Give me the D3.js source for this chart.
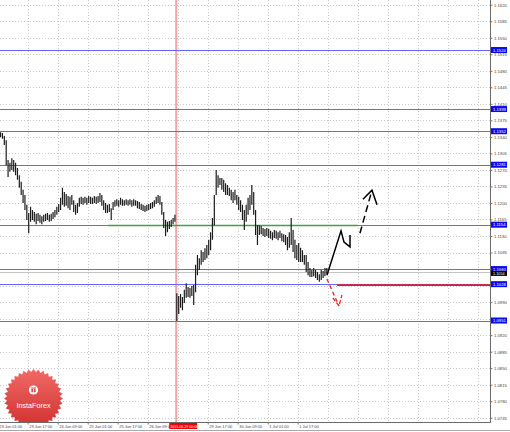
<!DOCTYPE html>
<html><head><meta charset="utf-8">
<script src="https://cdn.jsdelivr.net/npm/d3@7"></script>
<style>
body{margin:0;background:#fff}
svg{display:block}
text{font-family:"Liberation Sans",Arial,sans-serif}
</style>
</head><body>
<svg id="c" width="510" height="432"></svg>
<script>
// ---------- DATA ----------
const firstHour = 1; // hours of trading time since 23 Jun 2015 01:00
const highs = [
1.1350,1.1348,1.1342,1.1333,1.1291,1.1285,1.1295,1.1291,1.1285,1.1274,
1.1259,1.1245,1.1228,1.1217,1.1196,1.1179,1.1192,1.1185,1.1181,1.1177,
1.1179,1.1175,1.1172,1.1175,1.1177,1.1179,1.1175,1.1177,1.1181,1.1185,
1.1192,1.1198,1.1211,1.1232,1.1223,1.1219,1.1215,1.1213,1.1217,1.1206,
1.1196,1.1200,1.1211,1.1213,1.1211,1.1213,1.1211,1.1215,1.1213,1.1211,
1.1215,1.1213,1.1215,1.1221,1.1217,1.1206,1.1200,1.1196,1.1198,1.1189,
1.1202,1.1206,1.1208,1.1206,1.1211,1.1208,1.1206,1.1208,1.1206,1.1208,
1.1206,1.1208,1.1206,1.1204,1.1202,1.1198,1.1196,1.1194,1.1196,1.1198,
1.1200,1.1202,1.1206,1.1213,1.1217,1.1215,1.1202,1.1181,1.1164,1.1160,
1.1162,1.1164,1.1168,1.1175,
1.1009,1.1003,1.1007,1.1001,1.1016,1.1030,1.1022,1.1020,1.1024,1.1026,
1.1069,1.1090,1.1083,1.1100,1.1096,1.1104,1.1111,1.1122,1.1138,1.1168,
1.1217,1.1270,1.1259,1.1253,1.1253,1.1249,1.1242,1.1238,1.1232,1.1228,
1.1223,1.1228,1.1217,1.1213,1.1206,1.1196,1.1185,1.1196,1.1211,1.1217,
1.1238,1.1223,1.1185,1.1153,1.1153,1.1151,1.1147,1.1145,1.1147,1.1145,
1.1141,1.1138,1.1143,1.1141,1.1138,1.1141,1.1136,1.1134,1.1132,1.1128,
1.1138,1.1168,1.1143,1.1122,1.1111,1.1115,1.1105,1.1100,1.1090,1.1090,
1.1075,1.1062,1.1058,1.1062,1.1058,1.1054,1.1049,1.1058,1.1056,1.1062,
1.1062];
const lows = [
1.1340,1.1336,1.1323,1.1280,1.1255,1.1266,1.1270,1.1266,1.1259,1.1249,
1.1232,1.1217,1.1200,1.1185,1.1164,1.1136,1.1160,1.1164,1.1160,1.1155,
1.1162,1.1158,1.1155,1.1160,1.1162,1.1164,1.1160,1.1162,1.1166,1.1170,
1.1175,1.1181,1.1185,1.1196,1.1192,1.1194,1.1189,1.1185,1.1196,1.1181,
1.1175,1.1179,1.1192,1.1198,1.1196,1.1200,1.1196,1.1200,1.1198,1.1198,
1.1200,1.1198,1.1200,1.1202,1.1194,1.1185,1.1179,1.1179,1.1181,1.1164,
1.1185,1.1192,1.1194,1.1192,1.1196,1.1194,1.1194,1.1196,1.1194,1.1196,
1.1192,1.1194,1.1194,1.1189,1.1187,1.1185,1.1183,1.1181,1.1183,1.1185,
1.1187,1.1189,1.1192,1.1198,1.1200,1.1196,1.1175,1.1147,1.1130,1.1138,
1.1145,1.1149,1.1155,1.1160,
1.0950,1.0965,1.0978,1.0973,1.0988,1.0999,1.1001,1.0999,1.1003,1.0984,
1.1011,1.1047,1.1058,1.1069,1.1075,1.1079,1.1083,1.1090,1.1100,1.1122,
1.1153,1.1217,1.1232,1.1238,1.1228,1.1223,1.1217,1.1217,1.1215,1.1206,
1.1200,1.1206,1.1196,1.1185,1.1181,1.1164,1.1143,1.1160,1.1175,1.1185,
1.1196,1.1175,1.1132,1.1111,1.1132,1.1134,1.1130,1.1128,1.1130,1.1126,
1.1124,1.1121,1.1126,1.1124,1.1121,1.1126,1.1119,1.1117,1.1111,1.1100,
1.1105,1.1111,1.1096,1.1083,1.1079,1.1075,1.1075,1.1075,1.1069,1.1054,
1.1047,1.1043,1.1043,1.1045,1.1041,1.1037,1.1033,1.1037,1.1041,1.1045,
1.1049];

// price tick labels shown on the axis (labels hidden under level boxes are left out, as in the reference)
const priceTicks = [1.1620,1.1585,1.1550,1.1515,1.1480,1.1445,1.1410,1.1375,1.1340,1.1305,
  1.1270,1.1235,1.1200,1.1165,1.1130,1.1095,1.0990,1.0920,1.0885,
  1.0850,1.0815,1.0780,1.0745];
const gridPrices = [1.1620,1.1585,1.1550,1.1515,1.1480,1.1445,1.1410,1.1375,1.1340,1.1305,
  1.1270,1.1235,1.1200,1.1165,1.1130,1.1095,1.1060,1.1025,1.0990,1.0955,1.0920,1.0885,
  1.0850,1.0815,1.0780,1.0745];
const timeTickHours = [0,16,32,48,64,80,112,128,144,160];
const timeTickLabels = ["23 Jun 01:00","23 Jun 17:00","24 Jun 09:00","25 Jun 01:00","25 Jun 17:00",
  "26 Jun 09:00","29 Jun 17:00","30 Jun 09:00","1 Jul 01:00","1 Jul 17:00"];
const gridHours = [16,32,48,64,80,96,112,128,144,160,176,192,208,224,240,256];

const levels = [1.1524,1.1399,1.1352,1.1281,1.1154,1.1060,1.1028,1.0951];
const currentPrice = 1.1054;
const greenLevel = 1.1154, greenFrom = 58.8, greenTo = 192.2;
const redLevel = 1.1026, redFrom = 181;
const separatorHour = 95.2, separatorLabel = "2015.06.29 00:00";

const bullPath = [[175.6,1.1047],[183.1,1.1141],[184.7,1.1117],[187.9,1.1107],[187.9,1.1132]];
const bullDash = [[193.2,1.1136],[199.6,1.1227]];
const bullHead = [[194.8,1.1208],[199.6,1.1227],[202.3,1.1196]];
const bearDash = [[175.6,1.1039],[182.0,1.0982]];
const bearHead = [[178.8,1.0999],[182.0,1.0982],[183.6,1.1005]];

// ---------- SCALES ----------
const W = 510, H = 432, plotR = 490.5, plotB = 422.5;
const xs = d3.scaleLinear().domain([0,16]).range([-2.3,27.7]);
const ys = d3.scaleLinear().domain([1.0736,1.1630]).range([422,0]);

const svg = d3.select("#c");
svg.append("rect").attr("width",W).attr("height",H).attr("fill","#fff");
const defs = svg.append("defs");
defs.append("clipPath").attr("id","plot")
  .append("rect").attr("x",0).attr("y",0).attr("width",plotR).attr("height",plotB);
const lg = defs.append("linearGradient").attr("id","logoG").attr("x1",0).attr("y1",0).attr("x2",0).attr("y2",1);
lg.append("stop").attr("offset","0%").attr("stop-color","#f06a66");
lg.append("stop").attr("offset","100%").attr("stop-color","#d0302f");

const g = svg.append("g").attr("clip-path","url(#plot)");

// grid
g.selectAll("line.hg").data(gridPrices).join("line")
  .attr("x1",0).attr("x2",plotR).attr("y1",d=>Math.round(ys(d))+0.5).attr("y2",d=>Math.round(ys(d))+0.5)
  .attr("stroke","#c8c8c8").attr("stroke-width",1).attr("stroke-dasharray","1,2");
g.selectAll("line.vg").data(gridHours).join("line")
  .attr("y1",0).attr("y2",plotB).attr("x1",d=>Math.round(xs(d))+0.5).attr("x2",d=>Math.round(xs(d))+0.5)
  .attr("stroke","#c8c8c8").attr("stroke-width",1).attr("stroke-dasharray","1,2");

// separator (red vertical)
g.append("line").attr("x1",xs(separatorHour)).attr("x2",xs(separatorHour)).attr("y1",0).attr("y2",plotB)
  .attr("stroke","#f4a4a4").attr("stroke-width",2);

// levels
g.selectAll("line.lv").data(levels).join("line")
  .attr("x1",0).attr("x2",plotR).attr("y1",d=>Math.round(ys(d))+0.5).attr("y2",d=>Math.round(ys(d))+0.5)
  .attr("stroke","#6464ff").attr("stroke-width",1);
g.append("line").attr("x1",0).attr("x2",plotR)
  .attr("y1",Math.round(ys(currentPrice))+0.5).attr("y2",Math.round(ys(currentPrice))+0.5)
  .attr("stroke","#c4c4c4").attr("stroke-width",1);
g.append("line").attr("x1",xs(greenFrom)).attr("x2",xs(greenTo))
  .attr("y1",Math.round(ys(greenLevel))+0.5).attr("y2",Math.round(ys(greenLevel))+0.5)
  .attr("stroke","#34a844").attr("stroke-width",1.4);
g.append("line").attr("x1",xs(redFrom)).attr("x2",plotR)
  .attr("y1",ys(redLevel)).attr("y2",ys(redLevel))
  .attr("stroke","#f01818").attr("stroke-width",1.6);

// bars
const bars = highs.map((h,i)=>({t:firstHour+i,h,l:lows[i]}));
g.selectAll("line.bar").data(bars).join("line")
  .attr("x1",d=>xs(d.t)+1).attr("x2",d=>xs(d.t)+1)
  .attr("y1",d=>ys(d.h)).attr("y2",d=>ys(d.l))
  .attr("stroke","#1c1c1c").attr("stroke-width",1.2);

// arrows
const ln = d3.line().x(d=>xs(d[0])).y(d=>ys(d[1]));
g.append("path").attr("d",ln(bullPath)).attr("fill","none").attr("stroke","#000").attr("stroke-width",1.5);
g.append("path").attr("d",ln(bullDash)).attr("fill","none").attr("stroke","#000").attr("stroke-width",1.5).attr("stroke-dasharray","7,4");
g.append("path").attr("d",ln(bullHead)).attr("fill","none").attr("stroke","#000").attr("stroke-width",1.5);
g.append("path").attr("d",ln(bearDash)).attr("fill","none").attr("stroke","#ee2222").attr("stroke-width",1.3).attr("stroke-dasharray","4,3");
g.append("path").attr("d",ln(bearHead)).attr("fill","none").attr("stroke","#ee2222").attr("stroke-width",1.3).attr("stroke-dasharray","4,2");

// logo
const lcx = 33.5, lcy = 398.5, spikes = 36;
const star = d3.range(spikes*2).map(k=>{
  const a = Math.PI*k/spikes, r = k%2===0 ? 29.5 : 26.5;
  return [lcx + r*Math.cos(a), lcy + r*Math.sin(a)];
});
g.append("path").attr("d","M"+star.join("L")+"Z").attr("fill","url(#logoG)");
g.append("circle").attr("cx",lcx).attr("cy",390).attr("r",4.6).attr("fill","#fff");
g.append("rect").attr("x",lcx-2.2).attr("y",389).attr("width",4.4).attr("height",3.2).attr("fill","#e24a48");
g.append("line").attr("x1",lcx).attr("x2",lcx).attr("y1",387).attr("y2",392.5).attr("stroke","#fff").attr("stroke-width",0.8);
g.append("path").attr("d",`M${lcx},388.2 q-2.2,-2 -2.4,-0.2 q0.2,1 2.4,0.2 q2.2,-2 2.4,-0.2 q-0.2,1 -2.4,0.2`)
  .attr("fill","none").attr("stroke","#e24a48").attr("stroke-width",0.6);
g.append("text").attr("x",lcx).attr("y",407.5).attr("text-anchor","middle")
  .attr("font-size",7.2).attr("fill","#fff").text("InstaForex");

// axes frame
svg.append("line").attr("x1",plotR).attr("x2",plotR).attr("y1",0).attr("y2",plotB).attr("stroke","#6a6a6a");
svg.append("line").attr("x1",0).attr("x2",plotR).attr("y1",plotB).attr("y2",plotB).attr("stroke","#6a6a6a");
svg.append("line").attr("x1",0).attr("x2",W).attr("y1",430.5).attr("y2",430.5).attr("stroke","#a8a8a8");

// right axis
const ya = svg.append("g").attr("transform",`translate(${plotR},0)`)
  .call(d3.axisRight(ys).tickValues(priceTicks).tickFormat(d3.format(".4f")).tickSize(2).tickPadding(1.5));
ya.select(".domain").remove();
ya.selectAll("line").attr("stroke","#777");
ya.selectAll("text").attr("font-size",4.2).attr("fill","#444").attr("font-family","Liberation Sans, Arial, sans-serif");

// bottom axis
const xa = svg.append("g").attr("transform",`translate(0,${plotB})`)
  .call(d3.axisBottom(xs).tickValues(timeTickHours).tickFormat((d,i)=>timeTickLabels[i]).tickSize(2).tickPadding(1));
xa.select(".domain").remove();
xa.selectAll("line").attr("stroke","#777");
xa.selectAll("text").attr("font-size",4).attr("fill","#444").attr("text-anchor","start")
  .attr("dx",1).attr("font-family","Liberation Sans, Arial, sans-serif");

// level labels on right axis
const fmt = d3.format(".4f");
const lab = svg.append("g");
levels.forEach(v=>{
  const y = ys(v);
  lab.append("rect").attr("x",plotR+0.5).attr("y",y-3).attr("width",16).attr("height",6).attr("fill","#0a0af0");
  lab.append("text").attr("x",plotR+2.5).attr("y",y+1.5).attr("font-size",4.2).attr("fill","#fff").text(fmt(v));
});
{
  const y = ys(currentPrice) + 1.5;
  lab.append("rect").attr("x",plotR+0.5).attr("y",y-2.5).attr("width",16).attr("height",5).attr("fill","#000");
  lab.append("text").attr("x",plotR+2.5).attr("y",y+1.5).attr("font-size",3.8).attr("fill","#fff").text(fmt(currentPrice));
}
// separator date label
{
  const x0 = xs(separatorHour) - 7;
  svg.append("rect").attr("x",x0).attr("y",plotB+0.5).attr("width",28).attr("height",6).attr("fill","#f00000");
  svg.append("text").attr("x",x0+1).attr("y",plotB+5).attr("font-size",3.6).attr("fill","#fff").text(separatorLabel);
}
</script>
</body></html>
